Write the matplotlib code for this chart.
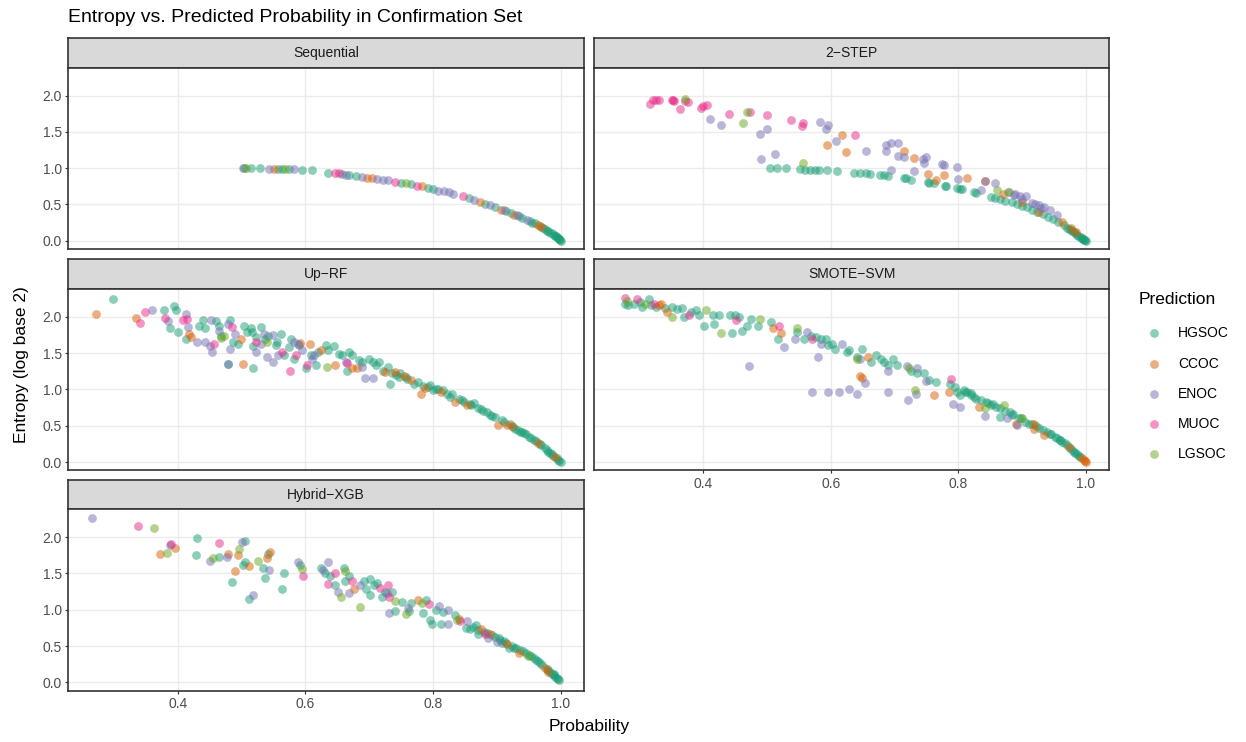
import matplotlib.pyplot as plt

# Faceted scatter: prediction entropy against predicted probability per classifier

W, H = 1246, 742
plt.rcParams['font.family'] = ['Liberation Sans', 'DejaVu Sans']

classes = ['HGSOC', 'CCOC', 'ENOC', 'MUOC', 'LGSOC']
class_codes = ['H', 'C', 'E', 'M', 'L']
class_colors = ['#1B9E77', '#D95F02', '#7570B3', '#E7298A', '#66A61E']

# ---- Sequential ----
seq_prob = [0.502, 0.503, 0.507, 0.515, 0.529, 0.543, 0.551, 0.557, 0.563, 0.568,
            0.574, 0.582, 0.594, 0.611,
            0.636, 0.646, 0.652, 0.658, 0.663, 0.669, 0.680, 0.688, 0.697, 0.705,
            0.713, 0.722, 0.730, 0.741, 0.750, 0.758, 0.766, 0.775, 0.783, 0.792,
            0.800, 0.808, 0.817, 0.825, 0.831,
            0.847, 0.856, 0.864, 0.873, 0.881, 0.889, 0.898, 0.906, 0.911, 0.915,
            0.923, 0.927, 0.931, 0.935, 0.940, 0.948, 0.952, 0.956, 0.960, 0.964,
            0.967, 0.970, 0.973, 0.976, 0.979, 0.981, 0.984, 0.987, 0.989, 0.992,
            0.993, 0.995, 0.996, 0.997, 0.998, 0.999, 1.000]
seq_entropy = [1.00, 1.00, 1.00, 1.00, 1.00, 0.99, 0.99, 0.99, 0.99, 0.99,
               0.99, 0.99, 0.98, 0.97,
               0.94, 0.93, 0.93, 0.92, 0.91, 0.90, 0.89, 0.88, 0.87, 0.86,
               0.85, 0.84, 0.83, 0.81, 0.80, 0.79, 0.78, 0.76, 0.75, 0.73,
               0.71, 0.69, 0.68, 0.67, 0.65,
               0.61, 0.59, 0.56, 0.54, 0.51, 0.49, 0.46, 0.43, 0.42, 0.41,
               0.38, 0.36, 0.35, 0.34, 0.32, 0.29, 0.27, 0.25, 0.24, 0.22,
               0.20, 0.19, 0.17, 0.16, 0.14, 0.13, 0.11, 0.10, 0.08, 0.07,
               0.06, 0.05, 0.04, 0.03, 0.02, 0.01, 0.00]
seq_pred = ("E H L H H E C H H L H E H H "
            "H M M H E H H E C C E E E M H L H M C H H E E E E "
            "M H E C H E H C E H H C E H H E H H H C H C H H H H H H H H H H H H H H H").split()

# ---- 2-STEP ----
step_prob = [0.316, 0.321, 0.326, 0.331, 0.350, 0.352, 0.354, 0.363, 0.371, 0.376,
             0.396, 0.399, 0.406, 0.440, 0.473, 0.499, 0.538, 0.554, 0.556, 0.638,
             0.371, 0.468, 0.462, 0.556, 0.861, 0.878,
             0.410, 0.428, 0.489, 0.500, 0.491, 0.513, 0.583, 0.595, 0.593, 0.608,
             0.655, 0.687, 0.694, 0.706, 0.686, 0.705, 0.715, 0.749, 0.746, 0.745,
             0.775, 0.778, 0.798, 0.694, 0.730, 0.799, 0.835, 0.841, 0.857, 0.887,
             0.889, 0.897, 0.906, 0.916, 0.927, 0.935, 0.943, 0.954, 0.880, 0.900,
             0.920, 0.930,
             0.594, 0.617, 0.623, 0.715, 0.730, 0.752, 0.765, 0.778, 0.814, 0.841,
             0.870, 0.900, 0.927, 0.962, 0.976, 0.984,
             0.504, 0.515, 0.529, 0.551, 0.560, 0.567, 0.575, 0.582, 0.594, 0.610,
             0.636, 0.645, 0.655, 0.661, 0.677, 0.683, 0.690, 0.714, 0.717, 0.725,
             0.752, 0.754, 0.762, 0.779, 0.780, 0.798, 0.802, 0.806, 0.824, 0.828,
             0.851, 0.858, 0.865, 0.873, 0.884, 0.892, 0.900, 0.908, 0.916, 0.924,
             0.932, 0.940, 0.949, 0.957, 0.965, 0.970, 0.976, 0.981, 0.986, 0.992,
             0.996, 1.000, 0.997, 0.995, 0.988, 0.983, 0.978, 0.973, 0.998, 0.993]
step_entropy = [1.89, 1.94, 1.94, 1.94, 1.94, 1.94, 1.93, 1.82, 1.93, 1.91,
                1.83, 1.86, 1.87, 1.75, 1.77, 1.73, 1.67, 1.58, 1.62, 1.45,
                1.95, 1.78, 1.62, 1.07, 0.70, 0.67,
                1.68, 1.60, 1.47, 1.54, 1.13, 1.20, 1.64, 1.59, 1.54, 1.38,
                1.23, 1.32, 1.35, 1.34, 1.24, 1.17, 1.16, 1.16, 1.07, 1.12,
                1.06, 1.05, 1.01, 0.97, 0.96, 0.85, 0.70, 0.82, 0.79, 0.63,
                0.65, 0.62, 0.61, 0.52, 0.49, 0.47, 0.42, 0.35, 0.67, 0.58,
                0.50, 0.45,
                1.32, 1.45, 1.22, 1.23, 1.14, 0.92, 0.84, 0.91, 0.87, 0.82,
                0.65, 0.54, 0.39, 0.26, 0.17, 0.12,
                1.00, 1.00, 1.00, 0.99, 0.98, 0.98, 0.97, 0.97, 0.97, 0.96,
                0.94, 0.94, 0.93, 0.92, 0.91, 0.90, 0.89, 0.87, 0.86, 0.84,
                0.81, 0.80, 0.79, 0.76, 0.76, 0.72, 0.71, 0.71, 0.67, 0.66,
                0.60, 0.59, 0.57, 0.55, 0.53, 0.51, 0.48, 0.46, 0.43, 0.40,
                0.37, 0.33, 0.30, 0.26, 0.22, 0.18, 0.15, 0.12, 0.08, 0.05,
                0.02, 0.00, 0.01, 0.03, 0.07, 0.10, 0.13, 0.16, 0.01, 0.04]
step_pred = ["M"] * 20 + ["L"] * 6 + ["E"] * 42 + ["C"] * 16 + ["H"] * 60

# ---- Up-RF ----
uprf_prob = [0.272, 0.299, 0.334, 0.340, 0.348, 0.360, 0.378, 0.394, 0.397, 0.380,
             0.385, 0.388, 0.401, 0.408, 0.415, 0.412, 0.413, 0.417, 0.420, 0.416,
             0.430, 0.433, 0.439, 0.442, 0.442, 0.456, 0.450, 0.454, 0.452, 0.460,
             0.465, 0.465, 0.468, 0.467, 0.473, 0.478, 0.481, 0.485, 0.482, 0.478,
             0.478, 0.487, 0.489, 0.495, 0.499, 0.502, 0.504, 0.509, 0.514, 0.517,
             0.518, 0.522, 0.523, 0.518, 0.522, 0.530, 0.530, 0.535, 0.539, 0.537,
             0.540, 0.541, 0.549, 0.549, 0.554, 0.555, 0.557, 0.562, 0.563, 0.566,
             0.574, 0.578, 0.576, 0.582, 0.582, 0.586, 0.590, 0.588, 0.591, 0.595,
             0.607, 0.601, 0.602, 0.608, 0.614, 0.611, 0.617, 0.619, 0.625, 0.633,
             0.636, 0.634, 0.645, 0.646, 0.652, 0.657, 0.663, 0.665, 0.668, 0.673,
             0.665, 0.673, 0.681, 0.684, 0.689, 0.689, 0.693, 0.706, 0.700, 0.706,
             0.711, 0.716, 0.722, 0.725, 0.730, 0.733, 0.735, 0.741, 0.746, 0.749,
             0.754, 0.760, 0.765, 0.770, 0.781, 0.784, 0.787, 0.795, 0.800, 0.808,
             0.813, 0.816, 0.827, 0.830, 0.835, 0.840, 0.849, 0.854, 0.865, 0.870,
             0.878, 0.884, 0.889, 0.897, 0.902, 0.908, 0.916, 0.924, 0.921, 0.929,
             0.937, 0.946, 0.954, 0.962, 0.964, 0.970, 0.975, 0.980, 0.986, 0.991,
             0.994, 0.998, 1.000, 0.958, 0.950, 0.942, 0.933, 0.983, 0.988, 0.996,
             0.978, 0.967, 0.875, 0.860, 0.742, 0.757, 0.776, 0.792, 0.805, 0.822,
             0.845, 0.858, 0.893, 0.912, 0.925, 0.940]
uprf_entropy = [2.04, 2.24, 1.99, 1.92, 2.06, 2.10, 2.09, 2.15, 2.09, 1.99,
                1.94, 1.84, 1.79, 1.95, 1.97, 2.04, 1.70, 1.76, 1.72, 1.86,
                1.66, 1.88, 1.95, 1.84, 1.65, 1.63, 1.60, 1.52, 1.96, 1.94,
                1.88, 1.80, 1.74, 1.71, 1.74, 1.90, 1.96, 1.86, 1.56, 1.35,
                1.35, 1.65, 1.77, 1.63, 1.69, 1.35, 1.88, 1.79, 1.84, 1.79,
                1.29, 1.72, 1.66, 1.60, 1.51, 1.63, 1.86, 1.76, 1.65, 1.70,
                1.45, 1.74, 1.75, 1.38, 1.61, 1.66, 1.47, 1.76, 1.51, 1.47,
                1.58, 1.69, 1.25, 1.42, 1.65, 1.48, 1.61, 1.63, 1.64, 1.54,
                1.63, 1.29, 1.33, 1.47, 1.47, 1.42, 1.33, 1.51, 1.55, 1.61,
                1.55, 1.31, 1.60, 1.33, 1.49, 1.47, 1.38, 1.36, 1.51, 1.47,
                1.26, 1.29, 1.29, 1.40, 1.38, 1.31, 1.16, 1.16, 1.42, 1.38,
                1.33, 1.38, 1.26, 1.24, 1.31, 1.08, 1.22, 1.24, 1.17, 1.23,
                1.19, 1.15, 1.13, 1.08, 0.94, 1.05, 1.02, 1.06, 0.99, 1.01,
                0.97, 0.99, 0.90, 0.94, 0.83, 0.87, 0.83, 0.78, 0.81, 0.74,
                0.71, 0.69, 0.65, 0.62, 0.51, 0.58, 0.51, 0.49, 0.52, 0.46,
                0.42, 0.38, 0.33, 0.29, 0.26, 0.23, 0.19, 0.14, 0.11, 0.07,
                0.05, 0.01, 0.00, 0.31, 0.35, 0.40, 0.44, 0.12, 0.09, 0.03,
                0.16, 0.25, 0.73, 0.79, 1.20, 1.17, 1.10, 1.04, 1.00, 0.94,
                0.85, 0.80, 0.64, 0.55, 0.48, 0.41]
uprf_pred = ("C H C M M E H H H M  E H H M M E H C C E  E H H H E M E E E H "
             "H E H L L E H M E H  E H E H C C H H H H  H H M H E E H E L H "
             "E H E E H H E H M H  H H M H E M H E C E  C H M H E E H H C H "
             "H L H C H H E M H H  H C C H H E E E H H  H H H C H H H C H H "
             "C H C H C H C H H H  C H H H C H H C H H  H H H H C H C C H H "
             "H H H H C H H H H C  H H H H H H H H H H  H H H H H H H H H H "
             "H H H H H H").split()

# ---- SMOTE-SVM ----
smote_prob = [0.277, 0.277, 0.280, 0.282, 0.296, 0.291, 0.301, 0.304, 0.309, 0.315,
              0.318, 0.323, 0.331, 0.326, 0.334, 0.339, 0.343, 0.350, 0.351, 0.358,
              0.366, 0.369, 0.377, 0.380, 0.388, 0.393, 0.404, 0.401, 0.415, 0.416,
              0.425, 0.428, 0.442, 0.444, 0.451, 0.450, 0.455, 0.460, 0.468, 0.474,
              0.485, 0.489, 0.506, 0.509, 0.518, 0.521, 0.517, 0.527, 0.547, 0.547,
              0.544, 0.563, 0.558, 0.569, 0.571, 0.577, 0.579, 0.585, 0.585, 0.593,
              0.596, 0.601, 0.606, 0.617, 0.625, 0.628, 0.641, 0.641, 0.649, 0.646,
              0.658, 0.663, 0.671, 0.679, 0.684, 0.689, 0.690, 0.698, 0.703, 0.719,
              0.722, 0.726, 0.735, 0.735, 0.746, 0.749, 0.754, 0.765, 0.789, 0.787,
              0.795, 0.798, 0.803, 0.814, 0.819, 0.827, 0.835, 0.843, 0.851, 0.841,
              0.833, 0.841, 0.859, 0.871, 0.865, 0.873, 0.881, 0.884, 0.876, 0.892,
              0.890, 0.895, 0.900, 0.905, 0.919, 0.919, 0.921, 0.932, 0.935, 0.943,
              0.951, 0.959, 0.973, 0.967, 0.975, 0.981, 0.986, 0.991, 0.997, 1.000,
              0.998, 0.472, 0.645, 0.648, 0.654, 0.571, 0.596, 0.612, 0.629, 0.641,
              0.689, 0.721, 0.734, 0.732, 0.762, 0.786, 0.792, 0.803, 0.955, 0.963,
              0.978, 0.983, 0.939, 0.927, 0.910, 0.855, 0.820, 0.808, 0.994, 0.970,
              0.810, 0.825, 0.846, 0.866, 0.886, 0.898, 0.915, 0.945, 0.960, 0.989]
smote_entropy = [2.26, 2.18, 2.22, 2.16, 2.25, 2.18, 2.20, 2.13, 2.18, 2.25,
                 2.16, 2.18, 2.16, 2.13, 2.18, 2.12, 2.07, 2.13, 2.00, 2.11,
                 2.12, 2.00, 2.03, 2.06, 2.10, 2.02, 2.10, 1.87, 2.02, 1.90,
                 2.02, 1.78, 2.03, 1.78, 1.96, 2.03, 2.00, 1.80, 1.88, 1.97,
                 1.88, 1.97, 1.93, 1.85, 1.87, 1.78, 1.70, 1.58, 1.84, 1.79,
                 1.70, 1.79, 1.70, 1.74, 1.70, 1.72, 1.45, 1.70, 1.63, 1.70,
                 1.61, 1.63, 1.56, 1.63, 1.51, 1.54, 1.45, 1.42, 1.56, 1.42,
                 1.45, 1.38, 1.48, 1.42, 1.38, 1.33, 1.25, 1.42, 1.33, 1.32,
                 1.30, 1.26, 1.23, 1.29, 1.22, 1.11, 1.13, 1.10, 1.15, 1.08,
                 1.03, 0.97, 0.92, 0.97, 0.92, 0.87, 0.85, 0.83, 0.78, 0.74,
                 0.76, 0.64, 0.76, 0.78, 0.62, 0.71, 0.69, 0.65, 0.60, 0.51,
                 0.53, 0.60, 0.61, 0.55, 0.53, 0.46, 0.50, 0.44, 0.37, 0.39,
                 0.35, 0.30, 0.21, 0.26, 0.19, 0.14, 0.11, 0.07, 0.03, 0.00,
                 0.01, 1.32, 1.19, 1.16, 1.09, 0.97, 0.96, 0.97, 1.00, 0.94,
                 0.97, 0.86, 0.94, 0.99, 0.93, 0.97, 0.80, 0.76, 0.33, 0.28,
                 0.17, 0.12, 0.41, 0.47, 0.53, 0.80, 0.95, 0.99, 0.05, 0.24,
                 0.96, 0.90, 0.82, 0.74, 0.66, 0.60, 0.52, 0.38, 0.30, 0.09]
smote_pred = ("M H L H M H H H L H  H M C H C H C H L H  H H M H H H L H H H "
              "H L H H M H H H H H  H L H C M C H E L H  E E H H M H E H E H "
              "H H H E H H H L H E  C H H H H H E H H E  L H H E H E H H M H "
              "H H H H H H H H H L  C E H L H H H H E E  C H L H C C H H C H "
              "H H C H H H H H C C  C E C C E E E E E E  E E E L C C E E H H "
              "H H H H H H H H C H  H H H H H H H H H H").split()

# ---- Hybrid-XGB ----
hyb_prob = [0.265, 0.337, 0.363, 0.430, 0.501, 0.506, 0.465, 0.388, 0.389, 0.396,
            0.372, 0.383, 0.428, 0.455, 0.450, 0.464, 0.478, 0.477, 0.494, 0.496,
            0.506, 0.502, 0.512, 0.490, 0.526, 0.533, 0.539, 0.541, 0.545, 0.543,
            0.537, 0.567, 0.485, 0.511, 0.518, 0.564, 0.596, 0.589, 0.592, 0.595,
            0.625, 0.628, 0.635, 0.630, 0.646, 0.639, 0.660, 0.662, 0.668, 0.635,
            0.646, 0.662, 0.673, 0.651, 0.655, 0.668, 0.676, 0.685, 0.692, 0.695,
            0.702, 0.701, 0.685, 0.707, 0.712, 0.717, 0.720, 0.730, 0.725, 0.728,
            0.731, 0.735, 0.740, 0.731, 0.740, 0.751, 0.757, 0.761, 0.765, 0.763,
            0.777, 0.782, 0.789, 0.793, 0.785, 0.796, 0.799, 0.805, 0.810, 0.816,
            0.824, 0.813, 0.824, 0.835, 0.841, 0.843, 0.838, 0.851, 0.854, 0.868,
            0.876, 0.870, 0.884, 0.886, 0.881, 0.892, 0.889, 0.903, 0.900, 0.908,
            0.916, 0.919, 0.927, 0.935, 0.937, 0.946, 0.949, 0.954, 0.962, 0.967,
            0.975, 0.981, 0.984, 0.989, 0.995, 0.998, 0.996, 0.958, 0.971, 0.978,
            0.986, 0.992, 0.941, 0.924, 0.912, 0.862, 0.858, 0.870, 0.880, 0.897,
            0.905, 0.915, 0.930, 0.950, 0.965, 0.980, 0.990]
hyb_entropy = [2.27, 2.16, 2.13, 1.99, 1.94, 1.95, 1.92, 1.89, 1.90, 1.85,
               1.77, 1.78, 1.76, 1.71, 1.67, 1.73, 1.77, 1.73, 1.76, 1.84,
               1.66, 1.61, 1.60, 1.54, 1.67, 1.58, 1.71, 1.77, 1.79, 1.55,
               1.44, 1.50, 1.38, 1.15, 1.20, 1.28, 1.46, 1.66, 1.61, 1.56,
               1.57, 1.55, 1.66, 1.50, 1.51, 1.46, 1.58, 1.53, 1.46, 1.36,
               1.34, 1.40, 1.40, 1.24, 1.17, 1.23, 1.28, 1.34, 1.39, 1.28,
               1.43, 1.21, 1.04, 1.34, 1.37, 1.30, 1.17, 1.34, 1.25, 1.23,
               1.18, 1.25, 1.12, 0.96, 0.98, 1.11, 0.94, 1.03, 1.09, 0.98,
               1.14, 1.10, 1.14, 1.08, 0.95, 0.86, 0.80, 1.00, 1.05, 0.97,
               1.00, 0.81, 0.80, 0.93, 0.88, 0.84, 0.86, 0.75, 0.84, 0.79,
               0.73, 0.67, 0.68, 0.61, 0.67, 0.66, 0.67, 0.61, 0.56, 0.54,
               0.53, 0.48, 0.48, 0.40, 0.45, 0.40, 0.37, 0.36, 0.31, 0.27,
               0.20, 0.15, 0.14, 0.11, 0.06, 0.04, 0.05, 0.33, 0.24, 0.19,
               0.12, 0.08, 0.43, 0.50, 0.57, 0.76, 0.73, 0.72, 0.69, 0.63,
               0.59, 0.54, 0.47, 0.38, 0.29, 0.17, 0.10]
hyb_pred = ("E M L H E H M E M C  C L H L E H C E C L  H H C C L H C H C E "
            "H H H H E H M E H L  H E E H M H H L H M  H H M E L E C E H H "
            "H H L H H M H M H E  M H L E H H L E H H  C L H M H H H H E H "
            "E H E H C M L H E H  C H H E M H C H E H  C H H C H H L H H H "
            "C C H H H H H H H H  H H H H H H H H H H  H H H H H H H").split()

panels = [
    ('Sequential', seq_prob, seq_entropy, seq_pred),
    ('2\u2212STEP', step_prob, step_entropy, step_pred),
    ('Up\u2212RF', uprf_prob, uprf_entropy, uprf_pred),
    ('SMOTE\u2212SVM', smote_prob, smote_entropy, smote_pred),
    ('Hybrid\u2212XGB', hyb_prob, hyb_entropy, hyb_pred),
]
for name, p, e, c in panels:
    assert len(p) == len(e) == len(c), (name, len(p), len(e), len(c))

# shared scales with 5% padding on each side
all_p = [v for _, p, _, _ in panels for v in p]
all_e = [v for _, _, e, _ in panels for v in e]
pad_x = 0.05 * (max(all_p) - min(all_p))
pad_y = 0.05 * (max(all_e) - min(all_e))
xlim = (min(all_p) - pad_x, max(all_p) + pad_x)
ylim = (min(all_e) - pad_y, max(all_e) + pad_y)

col_x = [(68.3, 584.0), (594.0, 1109.3)]
row_y = [(38.3, 67.7, 249.0), (259.3, 289.0, 470.3), (480.0, 509.3, 690.7)]


def box(x0, y0, x1, y1):
    return [x0 / W, 1 - y1 / H, (x1 - x0) / W, (y1 - y0) / H]


fig = plt.figure(figsize=(W / 100, H / 100), dpi=100)

border = '#333333'
point_size = 40
for i, (name, p, e, c) in enumerate(panels):
    row, col = divmod(i, 2)
    x0, x1 = col_x[col]
    s0, s1, b = row_y[row]

    strip = fig.add_axes(box(x0, s0, x1, s1))
    strip.set_facecolor('#D9D9D9')
    strip.set_xticks([])
    strip.set_yticks([])
    for sp in strip.spines.values():
        sp.set_color(border)
        sp.set_linewidth(1.2)
    strip.text(0.5, 0.5, name, ha='center', va='center', fontsize=10,
               color='#1A1A1A', transform=strip.transAxes)

    ax = fig.add_axes(box(x0, s1, x1, b))
    ax.set_xlim(xlim)
    ax.set_ylim(ylim)
    ax.set_xticks([0.4, 0.6, 0.8, 1.0])
    ax.set_yticks([0.0, 0.5, 1.0, 1.5, 2.0])
    ax.grid(True, color='#EBEBEB', linewidth=1.0)
    ax.set_axisbelow(True)
    for sp in ax.spines.values():
        sp.set_color(border)
        sp.set_linewidth(1.2)

    for code, color in zip(class_codes, class_colors):
        px = [pv for pv, cv in zip(p, c) if cv == code]
        ey = [ev for ev, cv in zip(e, c) if cv == code]
        ax.scatter(px, ey, s=point_size, color=color, alpha=0.5, linewidths=0, zorder=3)

    show_x = name in ('SMOTE\u2212SVM', 'Hybrid\u2212XGB')
    show_y = col == 0
    ax.tick_params(axis='x', bottom=show_x, labelbottom=show_x, length=2.5,
                   width=0.8, color=border, labelcolor='#4D4D4D', labelsize=10, pad=2)
    ax.tick_params(axis='y', left=show_y, labelleft=show_y, length=2.5,
                   width=0.8, color=border, labelcolor='#4D4D4D', labelsize=10, pad=2)
    if show_y:
        ax.set_yticklabels(['0.0', '0.5', '1.0', '1.5', '2.0'])
    if show_x:
        ax.set_xticklabels(['0.4', '0.6', '0.8', '1.0'])

fig.text(68 / W, 1 - 17 / H, 'Entropy vs. Predicted Probability in Confirmation Set',
         fontsize=14, ha='left', va='center', color='black')
fig.text(589 / W, 1 - 727 / H, 'Probability', fontsize=12.5, ha='center', va='center')
fig.text(22 / W, 1 - 365 / H, 'Entropy (log base 2)', fontsize=12.5, ha='center',
         va='center', rotation=90)

# legend
fig.text(1139 / W, 1 - 300 / H, 'Prediction', fontsize=12.5, ha='left', va='center')
key_y = [333, 364, 393.5, 423.5, 453.5]
key_ax = fig.add_axes([0, 0, 1, 1], facecolor='none')
key_ax.set_xlim(0, W)
key_ax.set_ylim(H, 0)
key_ax.axis('off')
for label, color, ky in zip(classes, class_colors, key_y):
    key_ax.scatter([1153.5], [ky], s=point_size, color=color, alpha=0.5, linewidths=0)
    key_ax.text(1178, ky, label, fontsize=10, ha='left', va='center')

fig.savefig('out.png', dpi=100)
